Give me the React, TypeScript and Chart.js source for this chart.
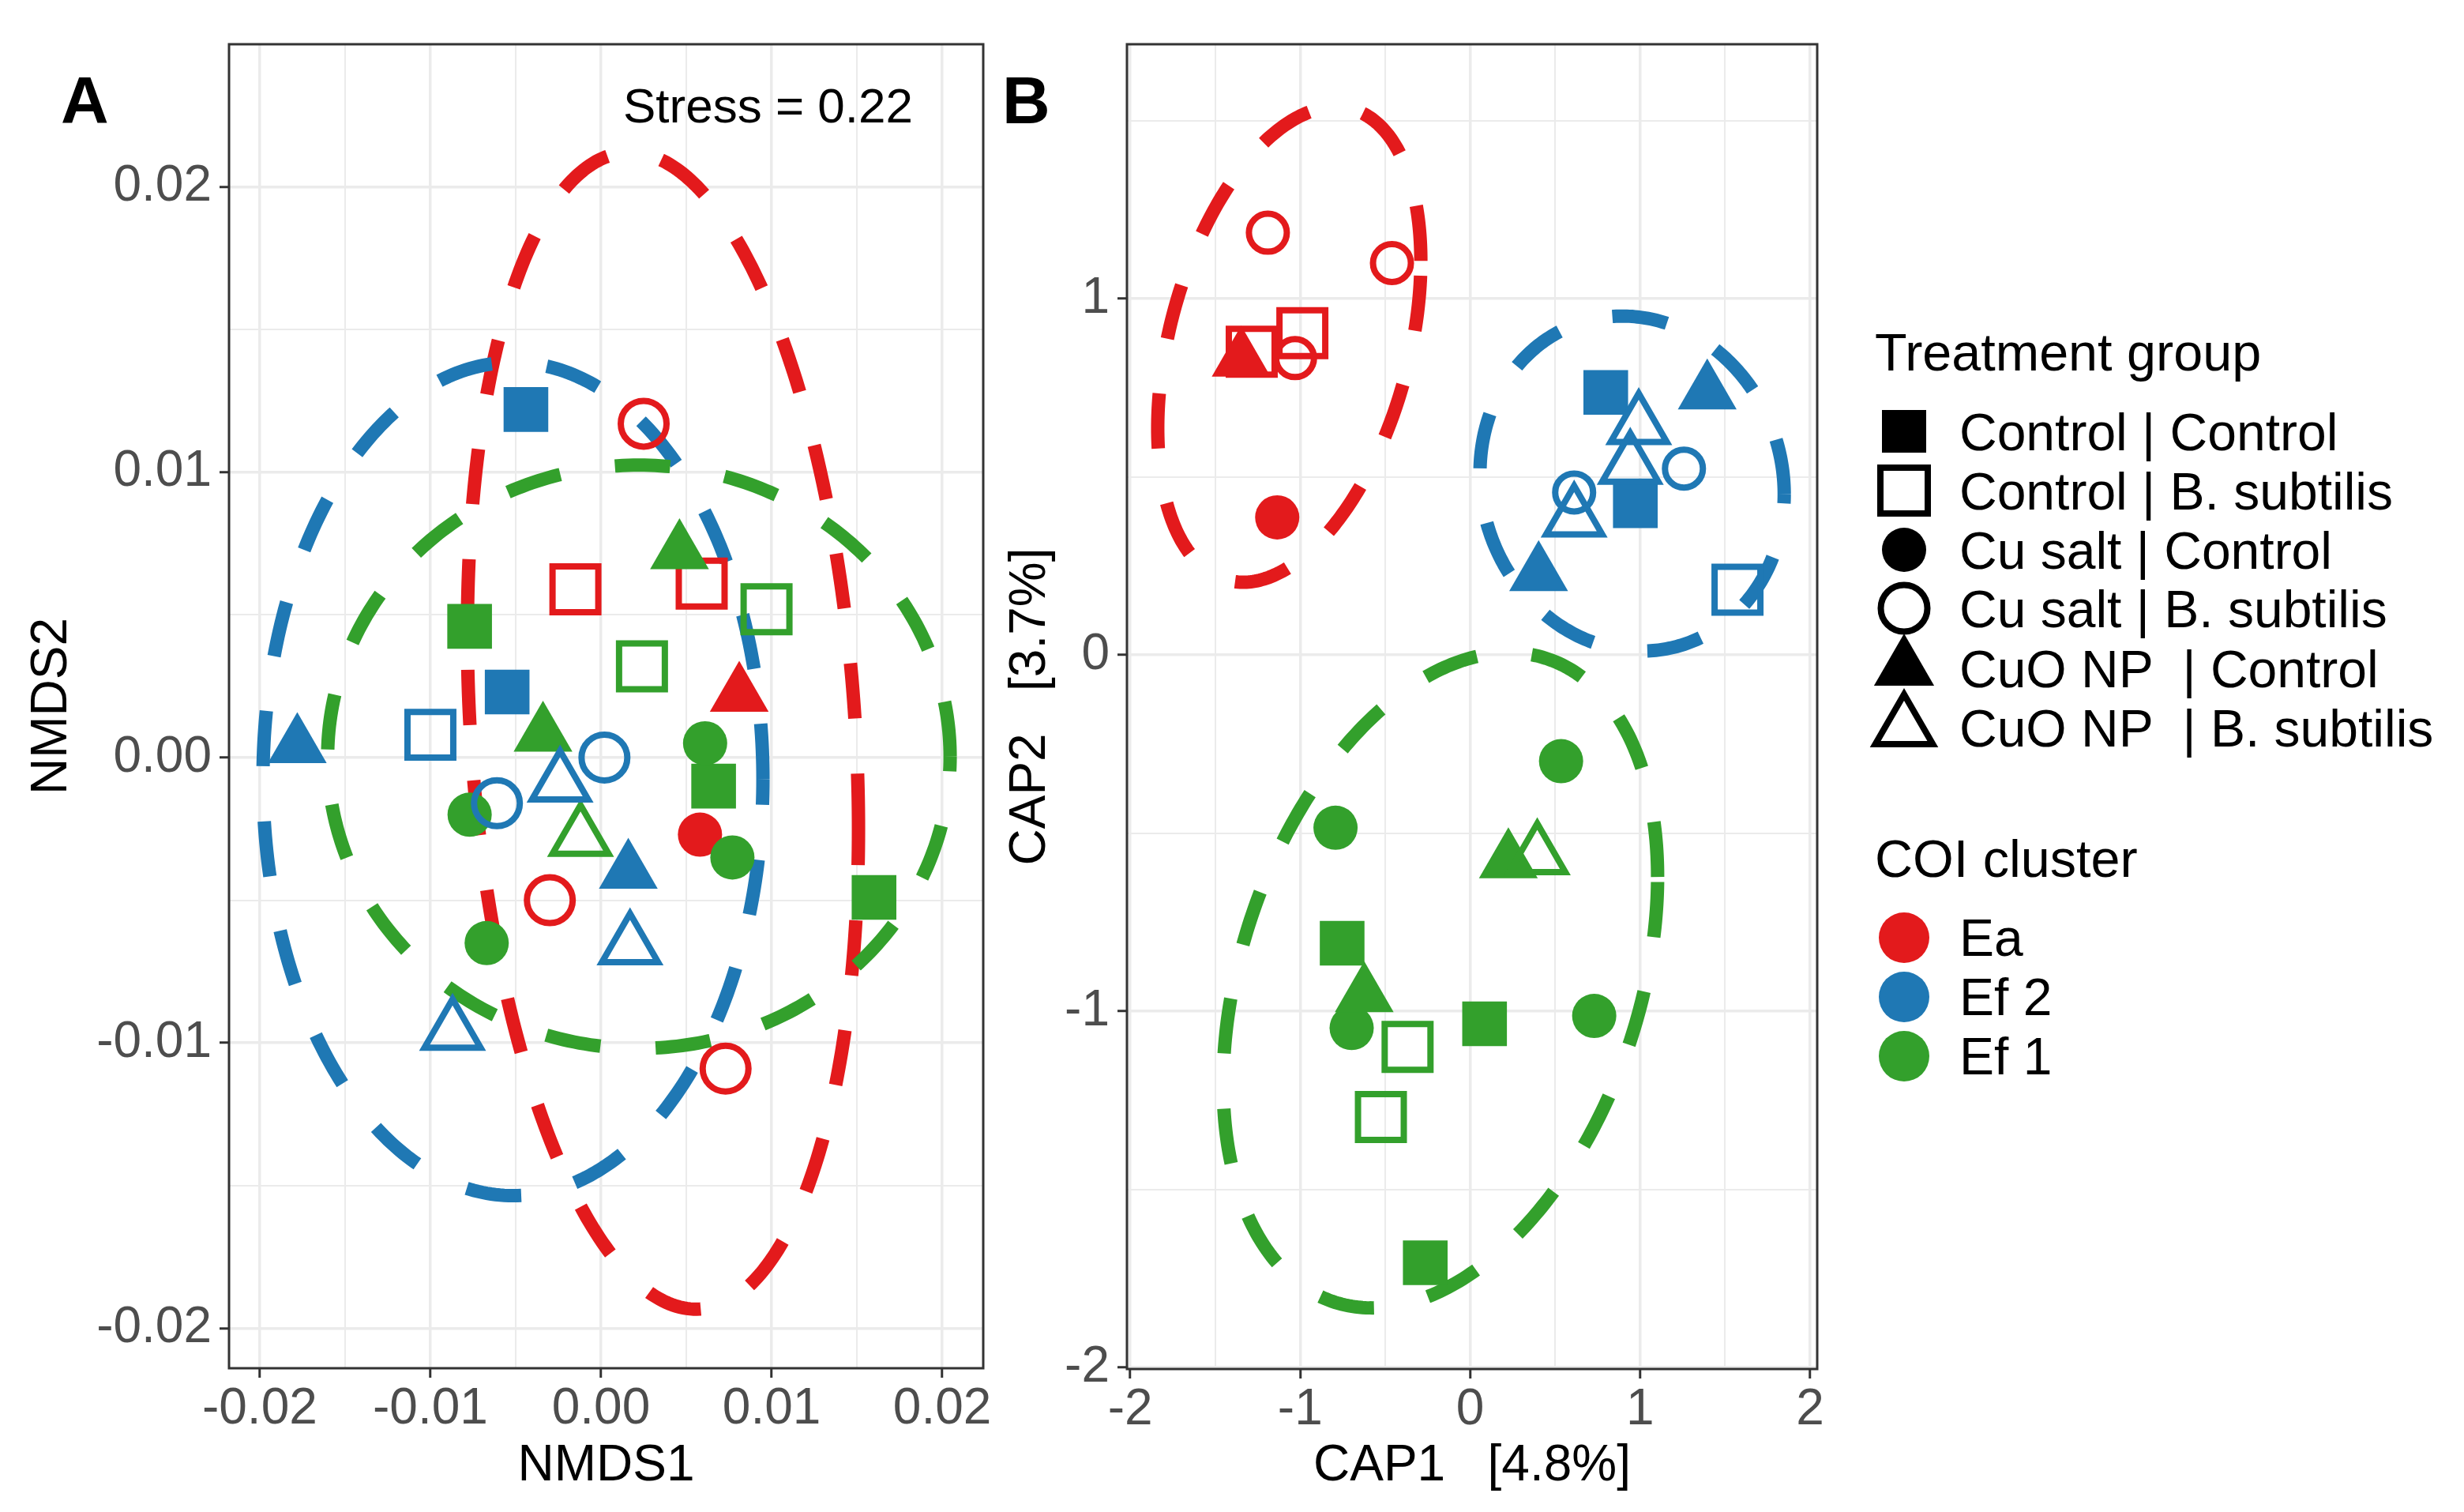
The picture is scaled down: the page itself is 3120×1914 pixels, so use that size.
import React, { useEffect, useRef } from 'react';
import { Chart, registerables } from 'chart.js';

Chart.register(...registerables);

const FONT = '"Liberation Sans", Arial, Helvetica, sans-serif';

// ---------- categories ----------
const clusterNames = ['Ea', 'Ef 2', 'Ef 1'];
const clusterColors = ['#E31A1C', '#1F78B4', '#33A02C'];
const groupNames = [
  'Control | Control',
  'Control | B. subtilis',
  'Cu salt | Control',
  'Cu salt | B. subtilis',
  'CuO NP  | Control',
  'CuO NP  | B. subtilis',
];
const groupShapes = ['rect', 'rect', 'circle', 'circle', 'triangle', 'triangle'];
const groupFilled = [true, false, true, false, true, false];

// ---------- Panel A: NMDS ----------
const nmds1 = [
  0.0025, -0.003, 0.0073, -0.0015, 0.0059, 0.0081, 0.0058,
  0.0046, -0.0034, 0.0097, 0.0024, -0.0077, 0.0066, 0.016, 0.0061, -0.0077, 0.0077, -0.0067, -0.0012,
  -0.0044, -0.0055, -0.0178, 0.0016, -0.01, 0.0002, -0.0061, -0.0024, 0.0017, -0.0087,
];
const nmds2 = [
  0.0117, -0.005, -0.0109, 0.0059, 0.0061, 0.0022, -0.0027,
  0.0072, 0.0008, 0.0052, 0.0032, 0.0046, -0.001, -0.0049, 0.0005, -0.002, -0.0035, -0.0065, -0.0028,
  0.0122, 0.0023, 0.0004, -0.004, 0.0008, 0.0, -0.0016, -0.0009, -0.0066, -0.0096,
];
const nmdsCluster = [
  0, 0, 0, 0, 0, 0, 0,
  2, 2, 2, 2, 2, 2, 2, 2, 2, 2, 2, 2,
  1, 1, 1, 1, 1, 1, 1, 1, 1, 1,
];
const nmdsGroup = [
  3, 3, 3, 1, 1, 4, 2,
  4, 4, 1, 1, 0, 0, 0, 2, 2, 2, 2, 5,
  0, 0, 4, 4, 1, 3, 3, 5, 5, 5,
];
// ellipses per cluster (Ea, Ef 2, Ef 1): centre, half x-extent, half y-extent, y-offset of rightmost point
const nmdsEllipseCx = [0.00363, -0.00516, 0.00222];
const nmdsEllipseCy = [0.00094, -0.00075, 0.00003];
const nmdsEllipseRx = [0.01146, 0.01465, 0.01824];
const nmdsEllipseRy = [0.02027, 0.0146, 0.01022];
const nmdsEllipseTilt = [-0.00344, 0.0, 0.0];

const nmdsMajor = [-0.02, -0.01, 0, 0.01, 0.02];
const nmdsMajorLabels = ['-0.02', '-0.01', '0.00', '0.01', '0.02'];
const nmdsMinor = [-0.015, -0.005, 0.005, 0.015];
const nmdsXRange = [-0.0218, 0.0224];
const nmdsYRange = [-0.0214, 0.025];
const stressLabel = 'Stress = 0.22';

// ---------- Panel B: CAP ----------
const cap1 = [
  -1.19, -0.46, -0.987, -1.285, -1.347, -1.03, -1.135,
  0.535, -0.792, -0.697, 0.73, 0.225, -0.623, 0.395, -0.753, 0.085, -0.264, -0.368, -0.525,
  0.798, 0.972, 1.395, 0.403, 0.992, 0.942, 0.612, 1.258, 0.612, 1.573,
];
const cap2 = [
  1.185, 1.1, 0.903, 0.851, 0.829, 0.833, 0.386,
  -0.298, -0.485, -1.047, -1.013, -0.579, -0.955, -0.564, -0.809, -1.035, -1.706, -1.1, -1.297,
  0.737, 0.419, 0.737, 0.227, 0.643, 0.532, 0.384, 0.523, 0.456, 0.183,
];
const capCluster = [
  0, 0, 0, 0, 0, 0, 0,
  2, 2, 2, 2, 2, 2, 2, 2, 2, 2, 2, 2,
  1, 1, 1, 1, 1, 1, 1, 1, 1, 1,
];
const capGroup = [
  3, 3, 1, 1, 4, 3, 2,
  2, 2, 2, 2, 4, 4, 5, 0, 0, 0, 1, 1,
  0, 0, 4, 4, 5, 5, 5, 3, 3, 1,
];
const capEllipseCx = [-1.064, 0.953, -0.175];
const capEllipseCy = [0.871, 0.481, -0.913];
const capEllipseRx = [0.774, 0.895, 1.278];
const capEllipseRy = [0.667, 0.47, 0.9195];
const capEllipseTilt = [0.235, -0.03, 0.29];

const capXMajor = [-2, -1, 0, 1, 2];
const capXMajorLabels = ['-2', '-1', '0', '1', '2'];
const capXMinor = [-1.5, -0.5, 0.5, 1.5];
const capYMajor = [-2, -1, 0, 1];
const capYMajorLabels = ['-2', '-1', '0', '1'];
const capYMinor = [-1.5, -0.5, 0.5, 1.5];
const capXRange = [-2.019, 2.042];
const capYRange = [-2.004, 1.714];

// ---------- helpers ----------
function buildDataset(xs: number[], ys: number[], cl: number[], gr: number[], openCircleR: number) {
  return {
    type: 'scatter' as const,
    data: xs.map((x, i) => ({ x, y: ys[i] })),
    pointStyle: gr.map((g) => groupShapes[g]),
    pointRadius: gr.map((g) => {
      const s = groupShapes[g];
      const f = groupFilled[g];
      if (s === 'rect') return f ? 40 : 41;
      if (s === 'circle') return f ? 28 : openCircleR;
      return f ? 43 : 41;
    }),
    pointBackgroundColor: gr.map((g, i) => (groupFilled[g] ? clusterColors[cl[i]] : 'rgba(0,0,0,0)')),
    pointBorderColor: cl.map((c) => clusterColors[c]),
    pointBorderWidth: gr.map((g) => (groupFilled[g] ? 0 : 8)),
    pointHoverRadius: 0,
    showLine: false,
  };
}

function makeScale(
  axis: 'x' | 'y',
  range: number[],
  major: number[],
  labels: string[],
  minor: number[],
  title: string,
  titlePad: number,
  fitSize: number
) {
  const isMajor = (v: number) => major.some((m) => Math.abs(m - v) < 1e-9);
  return {
    type: 'linear',
    position: axis === 'x' ? 'bottom' : 'left',
    min: range[0],
    max: range[1],
    bounds: 'data',
    afterBuildTicks: (s: any) => {
      s.ticks = [...major, ...minor].sort((a, b) => a - b).map((v) => ({ value: v }));
    },
    afterFit: (s: any) => {
      if (axis === 'x') {
        s.height = fitSize;
        s.paddingLeft = 0;
        s.paddingRight = 0;
      } else {
        s.width = fitSize;
        s.paddingTop = 0;
        s.paddingBottom = 0;
      }
    },
    ticks: {
      autoSkip: false,
      maxRotation: 0,
      minRotation: 0,
      padding: axis === 'x' ? 2 : 10,
      color: '#4D4D4D',
      font: { family: FONT, size: 64 },
      callback: (v: any) => {
        const i = major.findIndex((m) => Math.abs(m - Number(v)) < 1e-9);
        return i >= 0 ? labels[i] : '';
      },
    },
    grid: {
      color: '#EBEBEB',
      lineWidth: (c: any) => (c.tick && isMajor(c.tick.value) ? 3.5 : 2),
      tickColor: (c: any) => (c.tick && isMajor(c.tick.value) ? '#333333' : 'rgba(0,0,0,0)'),
      tickWidth: 3,
      tickLength: 12,
      drawTicks: true,
    },
    border: { display: false },
    title: {
      display: true,
      text: title,
      color: '#000000',
      font: { family: FONT, size: 64 },
      padding: axis === 'x' ? { top: 0, bottom: titlePad } : { top: titlePad, bottom: 0 },
    },
  };
}

function ellipsePlugin(cx: number[], cy: number[], rx: number[], ry: number[], tilt: number[]) {
  return {
    id: 'ellipses',
    beforeDatasetsDraw(chart: any) {
      const { ctx, chartArea, scales } = chart;
      ctx.save();
      ctx.beginPath();
      ctx.rect(chartArea.left, chartArea.top, chartArea.right - chartArea.left, chartArea.bottom - chartArea.top);
      ctx.clip();
      ctx.lineWidth = 17;
      ctx.setLineDash([70, 70]);
      ctx.lineCap = 'butt';
      for (let k = 0; k < cx.length; k++) {
        const q = Math.sqrt(Math.max(ry[k] * ry[k] - tilt[k] * tilt[k], 0));
        ctx.strokeStyle = clusterColors[k];
        ctx.beginPath();
        for (let s = 0; s <= 360; s++) {
          const t = (s / 360) * Math.PI * 2;
          const vx = cx[k] + rx[k] * Math.cos(t);
          const vy = cy[k] + tilt[k] * Math.cos(t) + q * Math.sin(t);
          const px = scales.x.getPixelForValue(vx);
          const py = scales.y.getPixelForValue(vy);
          if (s === 0) ctx.moveTo(px, py);
          else ctx.lineTo(px, py);
        }
        ctx.stroke();
      }
      ctx.restore();
    },
  };
}

const framePlugin = {
  id: 'frame',
  afterDraw(chart: any) {
    const { ctx, chartArea } = chart;
    ctx.save();
    ctx.strokeStyle = '#333333';
    ctx.lineWidth = 3;
    ctx.strokeRect(chartArea.left, chartArea.top, chartArea.right - chartArea.left, chartArea.bottom - chartArea.top);
    ctx.restore();
  },
};

function drawShape(ctx: CanvasRenderingContext2D, shape: string, filled: boolean, x: number, y: number) {
  ctx.beginPath();
  if (shape === 'rect') {
    if (filled) ctx.rect(x - 28, y - 27, 56, 54);
    else ctx.rect(x - 30, y - 29, 60, 58);
  } else if (shape === 'circle') {
    ctx.arc(x, y, filled ? 28 : 29.5, 0, Math.PI * 2);
  } else {
    const R = filled ? 44 : 42;
    for (let i = 0; i < 3; i++) {
      const a = -Math.PI / 2 + (i * 2 * Math.PI) / 3;
      const px = x + R * Math.cos(a);
      const py = y + R * Math.sin(a);
      if (i === 0) ctx.moveTo(px, py);
      else ctx.lineTo(px, py);
    }
    ctx.closePath();
  }
  if (filled) ctx.fill();
  else ctx.stroke();
}

const legendRowY = [546, 621, 696, 770, 846, 921];
const legendColorRowY = [1187, 1262, 1337];

function makeLegendPlugin(offsetX: number) {
  return {
    id: 'sideLegend',
    afterDraw(chart: any) {
      const ctx: CanvasRenderingContext2D = chart.ctx;
      ctx.save();
      ctx.fillStyle = '#000';
      ctx.strokeStyle = '#000';
      ctx.lineWidth = 8;
      ctx.lineJoin = 'miter';
      ctx.textAlign = 'left';
      ctx.textBaseline = 'alphabetic';
      ctx.font = `66.5px ${FONT}`;
      ctx.fillText('Treatment group', 2374 - offsetX, 469);
      ctx.font = `66px ${FONT}`;
      groupNames.forEach((name, i) => {
        drawShape(ctx, groupShapes[i], groupFilled[i], 2411 - offsetX, legendRowY[i]);
        ctx.fillText(name, 2481 - offsetX, legendRowY[i] + 24);
      });
      ctx.font = `66.5px ${FONT}`;
      ctx.fillText('COI cluster', 2374 - offsetX, 1110);
      ctx.font = `66px ${FONT}`;
      clusterNames.forEach((name, i) => {
        ctx.fillStyle = clusterColors[i];
        ctx.beginPath();
        ctx.arc(2411 - offsetX, legendColorRowY[i], 32, 0, Math.PI * 2);
        ctx.fill();
        ctx.fillStyle = '#000';
        ctx.fillText(name, 2481 - offsetX, legendColorRowY[i] + 23);
      });
      ctx.restore();
    },
  };
}

function labelPlugin(items: { text: string; x: number; y: number; font: string }[]) {
  return {
    id: 'panelLabels',
    afterDraw(chart: any) {
      const ctx: CanvasRenderingContext2D = chart.ctx;
      ctx.save();
      ctx.fillStyle = '#000';
      ctx.textAlign = 'left';
      ctx.textBaseline = 'alphabetic';
      items.forEach((it) => {
        ctx.font = it.font;
        ctx.fillText(it.text, it.x, it.y);
      });
      ctx.restore();
    },
  };
}

const A_WIDTH = 1340;
const A_RIGHT = 1245;
const B_LEFT = 1250;
const B_WIDTH = 1870;
const HEIGHT = 1914;

export default function App() {
  const refA = useRef<HTMLCanvasElement>(null);
  const refB = useRef<HTMLCanvasElement>(null);

  useEffect(() => {
    const common = {
      responsive: false,
      maintainAspectRatio: false,
      animation: false,
      devicePixelRatio: 1,
      events: [] as any[],
      plugins: { legend: { display: false }, tooltip: { enabled: false } },
    };

    const chartA = new Chart(refA.current as HTMLCanvasElement, {
      type: 'scatter',
      data: { datasets: [buildDataset(nmds1, nmds2, nmdsCluster, nmdsGroup, 29) as any] },
      options: {
        ...common,
        layout: { padding: { left: 0, right: A_WIDTH - A_RIGHT, top: 56, bottom: 0 } },
        scales: {
          x: makeScale('x', nmdsXRange, nmdsMajor, nmdsMajorLabels, nmdsMinor, 'NMDS1', 19, 182) as any,
          y: makeScale('y', nmdsYRange, nmdsMajor, nmdsMajorLabels, nmdsMinor, 'NMDS2', 28, 290) as any,
        },
      } as any,
      plugins: [
        ellipsePlugin(nmdsEllipseCx, nmdsEllipseCy, nmdsEllipseRx, nmdsEllipseRy, nmdsEllipseTilt),
        framePlugin,
        labelPlugin([
          { text: 'A', x: 77, y: 156, font: `bold 84px ${FONT}` },
          { text: stressLabel, x: 789, y: 155, font: `62px ${FONT}` },
        ]),
      ],
    });

    const chartB = new Chart(refB.current as HTMLCanvasElement, {
      type: 'scatter',
      data: { datasets: [buildDataset(cap1, cap2, capCluster, capGroup, 24) as any] },
      options: {
        ...common,
        layout: { padding: { left: 0, right: B_WIDTH - (2301 - B_LEFT), top: 56, bottom: 0 } },
        scales: {
          x: makeScale('x', capXRange, capXMajor, capXMajorLabels, capXMinor, 'CAP1   [4.8%]', 19, 181) as any,
          y: makeScale('y', capYRange, capYMajor, capYMajorLabels, capYMinor, 'CAP2   [3.7%]', 17, 1427 - B_LEFT) as any,
        },
      } as any,
      plugins: [
        ellipsePlugin(capEllipseCx, capEllipseCy, capEllipseRx, capEllipseRy, capEllipseTilt),
        framePlugin,
        labelPlugin([{ text: 'B', x: 1269 - B_LEFT, y: 156, font: `bold 84px ${FONT}` }]),
        makeLegendPlugin(B_LEFT),
      ],
    });

    return () => {
      chartA.destroy();
      chartB.destroy();
    };
  }, []);

  return (
    <div style={{ position: 'absolute', left: 0, top: 0, width: 3120, height: HEIGHT, background: '#ffffff', overflow: 'hidden' }}>
      <canvas
        ref={refA}
        width={A_WIDTH}
        height={HEIGHT}
        style={{ position: 'absolute', left: 0, top: 0, width: A_WIDTH, height: HEIGHT }}
      />
      <canvas
        ref={refB}
        width={B_WIDTH}
        height={HEIGHT}
        style={{ position: 'absolute', left: B_LEFT, top: 0, width: B_WIDTH, height: HEIGHT }}
      />
    </div>
  );
}
